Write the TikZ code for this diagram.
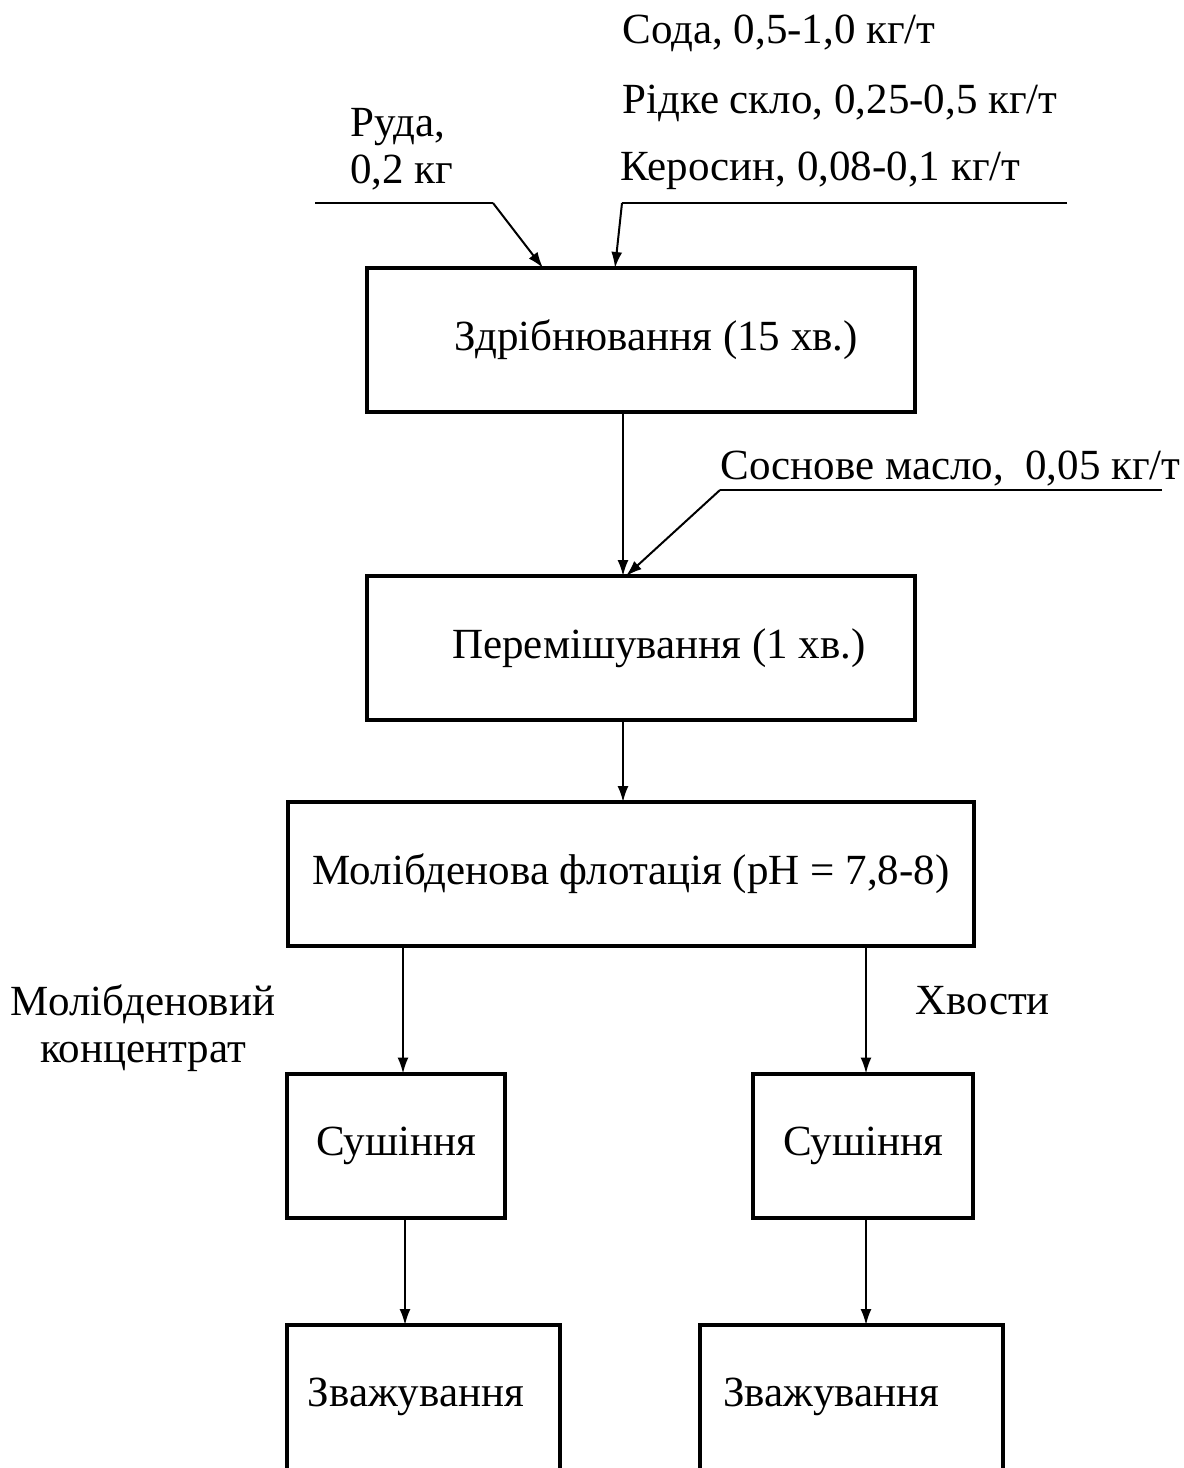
\documentclass[tikz,border=0pt]{standalone}
\usepackage{fontspec}
\setmainfont{Liberation Serif}
\usetikzlibrary{arrows.meta}

\begin{document}
\begin{tikzpicture}[x=0.5pt, y=-0.5pt,
	>={Latex[length=8pt,width=5.5pt]},   % Pfeilspitzen
	block/.style={draw, line width=2pt, inner sep=0pt, outer sep=0pt, minimum height=72pt},
	openblock/.style={inner sep=0pt, outer sep=0pt, minimum height=71.5pt},
	flow/.style={->, line width=1pt},
	lbl/.style={inner sep=0pt, anchor=west},
	font=\fontsize{21.5}{23.5}\selectfont]
	% Bildbereich
	\useasboundingbox (0,0) rectangle (1184,1468);
	\clip (0,0) rectangle (1184,1468);
	% Bloecke
	\node[block, minimum width=274pt] (grind) at (641,340) {\hspace*{15.5pt}Здрібнювання (15 хв.)};
	\node[block, minimum width=274pt] (mix) at (641,648) {\hspace*{18pt}Перемішування (1 хв.)};
	\node[block, minimum width=343pt] (flot) at (631,874) {Молібденова флотація (рН = 7,8-8)};
	\node[block, minimum width=109pt] (dryL) at (396,1145.5) {Сушіння};
	\node[block, minimum width=110pt] (dryR) at (863,1145.5) {Сушіння};
	\node[openblock, minimum width=136.5pt] (weighL) at (423.5,1396.5) {\hspace*{-7.5pt}Зважування};
	\node[openblock, minimum width=151.5pt] (weighR) at (851.5,1396.5) {\hspace*{-20pt}Зважування};
	\foreach \b in {weighL, weighR}
		\draw[line width=2pt] (\b.south west) |- (\b.north east) -- (\b.south east);
	% Beschriftung
	\node[lbl, align=left, anchor=north west] (ore) at (350,108) {Руда,\\0,2 кг};
	\node[lbl] (soda) at (622,33) {Сода, 0,5-1,0 кг/т};
	\node[lbl] (glass) at (622,103) {Рідке скло, 0,25-0,5 кг/т};
	\node[lbl] (kero) at (620,171) {Керосин, 0,08-0,1 кг/т};
	\node[lbl] (pine) at (720,468) {Соснове масло,\ \ 0,05 кг/т};
	\node[inner sep=0pt, align=center] (conc) at (143,1028) {Молібденовий\\концентрат};
	\node[lbl] (tail) at (915,1001) {Хвости};
	% Zulaeufe
	\coordinate (oreA) at (315,203);
	\coordinate (oreB) at (493,203);
	\coordinate (oreX) at (543,0);
	\coordinate (reaA) at (1067,203);
	\coordinate (reaB) at (622,203);
	\coordinate (reaX) at (615,0);
	\coordinate (pineA) at (1162,490);
	\coordinate (pineB) at (720,490);
	\coordinate (pineX) at (626,0);
	\coordinate (axis) at (623,0);
	\coordinate (left) at (403,0);
	\coordinate (right) at (866,0);
	\draw[line width=1pt] (oreA) -- (oreB);
	\draw[flow] (oreB) -- (oreX |- grind.north);
	\draw[line width=1pt] (reaA) -- (reaB);
	\draw[flow] (reaB) -- (reaX |- grind.north);
	\draw[line width=1pt] (pineA) -- (pineB);
	\draw[flow] (pineB) -- (pineX |- mix.north);
	% Hauptstrom
	\draw[flow] (axis |- grind.south) -- (axis |- mix.north);
	\draw[flow] (axis |- mix.south) -- (axis |- flot.north);
	\draw[flow] (left |- flot.south) -- (left |- dryL.north);
	\draw[flow] (right |- flot.south) -- (right |- dryR.north);
	\draw[flow] ([xshift=1pt]left |- dryL.south) -- ([xshift=1pt]left |- weighL.north);
	\draw[flow] (right |- dryR.south) -- (right |- weighR.north);
\end{tikzpicture}
\end{document}
